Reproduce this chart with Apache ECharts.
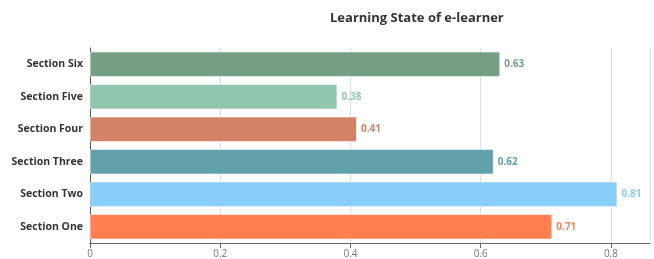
<!DOCTYPE html>
<html>
<head>
<meta charset="utf-8">
<script src="https://cdn.jsdelivr.net/npm/echarts@6/dist/echarts.min.js"></script>
<style>
  html, body { margin: 0; padding: 0; background: #fff; }
  #chart { width: 654px; height: 259px; }
</style>
</head>
<body>
<div id="chart"></div>
<script>
  // data
  const sections = ['Section One', 'Section Two', 'Section Three', 'Section Four', 'Section Five', 'Section Six']
  const states = [0.71, 0.81, 0.62, 0.41, 0.38, 0.63]
  const barColors = ['#ff7f50', '#87cefa', '#61a0a8', '#d48265', '#91c7ae', '#749f83']

  const chart = echarts.init(document.getElementById('chart'))
  chart.setOption({
    animation: false,
    textStyle: { fontFamily: 'Open Sans' },
    title: {
      text: 'Learning State of e-learner',
      left: 325,
      top: 7,
      textStyle: { fontSize: 13, fontWeight: 'bold', color: '#333' }
    },
    grid: { left: 90, right: 4, top: 48, bottom: 16 },
    xAxis: {
      type: 'value',
      min: 0,
      max: 0.86,
      interval: 0.2,
      axisLine: { show: true, lineStyle: { color: '#666' } },
      axisTick: { show: true, lineStyle: { color: '#666' } },
      axisLabel: { color: '#777', fontSize: 10, margin: 6, showMaxLabel: false },
      splitLine: { lineStyle: { color: '#ddd' } }
    },
    yAxis: {
      type: 'category',
      data: sections,
      axisLine: { lineStyle: { color: '#555' } },
      axisTick: { lineStyle: { color: '#555' } },
      axisLabel: { color: '#333', fontSize: 10.5, fontWeight: 'bold', margin: 7 }
    },
    series: [{
      type: 'bar',
      barWidth: '78%',
      data: states.map((v, i) => ({
        value: v,
        itemStyle: { color: barColors[i] },
        label: { color: barColors[i] }
      })),
      itemStyle: { borderColor: 'rgba(255,255,255,0.5)', borderWidth: 1 },
      label: { show: true, position: 'right', fontSize: 10, fontWeight: 'bold', distance: 4 }
    }]
  })
</script>
</body>
</html>
